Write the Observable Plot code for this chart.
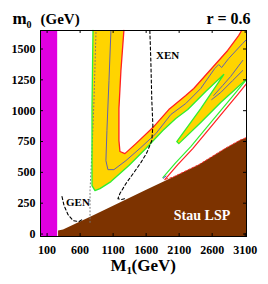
<!DOCTYPE html>
<html>
<head>
<meta charset="utf-8">
<script src="https://cdn.jsdelivr.net/npm/d3@7"></script>
<script src="https://cdn.jsdelivr.net/npm/@observablehq/plot@0.6"></script>
<style>
  html, body { margin: 0; padding: 0; background: #fff; }
  #chart svg { display: block; }
</style>
</head>
<body>
<div id="chart"></div>
<script>
// ---- tick labels ----
const xTicks = [100, 600, 1100, 1600, 2100, 2600, 3100];
const yTicks = [0, 250, 500, 750, 1000, 1250, 1500];

// ---- excluded regions ----
const lepBand = [0, 260];                     // magenta band in M1
const stauLSP = [[266, -20], [266, 28], [341, 36], [800, 153], [1200, 255], [1600, 358],
                 [2000, 460], [2400, 563], [2800, 695], [3031, 764], [3120, 782], [3120, -20]];
const stauEdge = [[1900, 445], [2000, 460], [2400, 563], [2800, 695], [3031, 764], [3120, 782]];

// ---- yellow allowed band: green (outer/lower) and red (inner/upper) contours ----
const greenEdge = [[795, 1650], [780, 1017], [780, 677], [780, 393], [825, 352], [901, 368],
                   [1067, 425], [1339, 555], [1596, 693], [1853, 839], [2049, 936], [2231, 1009],
                   [2502, 1155], [2775, 1293], [2427, 1017], [2064, 750], [2095, 733],
                   [2427, 904], [2729, 1066], [3031, 1212], [3120, 1253]];
const redEdge = [[3046, 1650], [3001, 1609], [2835, 1488], [2578, 1334], [2321, 1180],
                 [2200, 1123], [1943, 1009], [1702, 863], [1445, 733], [1278, 652], [1203, 669],
                 [1188, 758], [1188, 1017], [1218, 1325], [1263, 1650]];
const bandCorner = [[3120, 1650]];

// ---- blue central contours ----
const blueMain = [[1067, 1650], [1037, 1244], [1006, 839], [991, 595], [1021, 522], [1112, 522],
                  [1294, 595], [1520, 701], [1747, 814], [1974, 969], [2200, 1058], [2427, 1180],
                  [2639, 1342], [2699, 1374], [2744, 1350], [2850, 1423], [3062, 1545], [3120, 1577]];
const blueSliver1 = [[2593, 1090], [2729, 1147], [2910, 1244], [3062, 1325]];
const blueSliver2 = [[2623, 1123], [2759, 1204], [2880, 1277], [3062, 1407]];

// ---- thin strip near the stau boundary ----
const stripGreen = [[1853, 458], [2049, 579], [2276, 709], [2502, 855], [2729, 1001], [2956, 1147], [3120, 1253]];
const stripRed = [[1883, 441], [2079, 563], [2306, 693], [2533, 839], [2759, 985], [2986, 1131], [3120, 1220]];
const stripBlue = [[1860, 452], [1900, 470]];

// ---- dashed / dotted boundaries ----
const xenLine = [[1656, 1650], [1671, 1407], [1686, 1082], [1702, 879], [1686, 758], [1611, 660],
                 [1520, 579], [1414, 498], [1294, 409], [1203, 328], [1173, 287], [1218, 279], [1278, 287]];
const genLine = [[326, 303], [357, 230], [417, 157], [493, 109], [583, 101], [629, 117]];
const dottedLine = [[840, 1634], [810, 1082], [780, 677], [750, 352], [750, 93]];

// ---- in-plot labels ----
const darkLabels = [
  {text: "XEN", x: 1750, y: 1415},
  {text: "GEN", x: 387, y: 230}
];
const stauLabel = [{text: "Stau LSP", x: 2019, y: 117}];

const serif = "'Liberation Serif', 'Times New Roman', serif";
const X = d => d[0], Y = d => d[1];
const yellowPoly = greenEdge.concat(bandCorner, redEdge);

const chart = Plot.plot({
  width: 268,
  height: 284,
  marginLeft: 40,
  marginRight: 22,
  marginTop: 30,
  marginBottom: 48,
  style: {fontFamily: serif, background: "#fff"},
  x: {domain: [0, 3120], axis: null},
  y: {domain: [-20, 1650], axis: null},
  marks: [
    Plot.rect([lepBand], {x1: d => d[0], x2: d => d[1], y1: -20, y2: 1650, fill: "#e000e0"}),
    Plot.line(yellowPoly, {x: X, y: Y, fill: "#ffd400", stroke: "none"}),
    Plot.line(stauLSP, {x: X, y: Y, fill: "#7d3300", stroke: "none"}),
    Plot.line(stauEdge, {x: X, y: Y, stroke: "#ff3030", strokeWidth: 1, strokeDasharray: "2,2"}),
    Plot.line(dottedLine, {x: X, y: Y, stroke: "#777", strokeWidth: 1, strokeDasharray: "1,2.5"}),
    Plot.line(greenEdge, {x: X, y: Y, stroke: "#30ee30", strokeWidth: 1.3}),
    Plot.line(redEdge, {x: X, y: Y, stroke: "#ff2020", strokeWidth: 1.3}),
    Plot.line(blueMain, {x: X, y: Y, stroke: "#6262ac", strokeWidth: 1}),
    Plot.line(blueSliver1, {x: X, y: Y, stroke: "#6262ac", strokeWidth: 1}),
    Plot.line(blueSliver2, {x: X, y: Y, stroke: "#6262ac", strokeWidth: 1}),
    Plot.line(stripGreen, {x: X, y: Y, stroke: "#30ee30", strokeWidth: 1.2}),
    Plot.line(stripRed, {x: X, y: Y, stroke: "#ff2020", strokeWidth: 1.2}),
    Plot.line(stripBlue, {x: X, y: Y, stroke: "#4a4ad0", strokeWidth: 1}),
    Plot.line(xenLine, {x: X, y: Y, stroke: "#000", strokeWidth: 1.1, strokeDasharray: "3,2.5"}),
    Plot.line(genLine, {x: X, y: Y, stroke: "#000", strokeWidth: 1.1, strokeDasharray: "3,2.5"}),
    Plot.text(darkLabels, {x: "x", y: "y", text: "text", fill: "#000", fontSize: 11,
      fontWeight: "bold", textAnchor: "start", lineAnchor: "bottom", fontFamily: serif}),
    Plot.text(stauLabel, {x: "x", y: "y", text: "text", fill: "#fff", fontSize: 14,
      fontWeight: "bold", textAnchor: "start", lineAnchor: "bottom", fontFamily: serif}),
    // inner tick marks
    Plot.ruleX(xTicks, {x: d => d, y1: -20, y2: 4, stroke: "#000", strokeWidth: 1}),
    Plot.ruleX(xTicks, {x: d => d, y1: 1650, y2: 1626, stroke: "#000", strokeWidth: 1}),
    Plot.ruleY(yTicks, {y: d => d, x1: 0, x2: 45, stroke: "#000", strokeWidth: 1}),
    Plot.ruleY(yTicks, {y: d => d, x1: 3120, x2: 3075, stroke: "#000", strokeWidth: 1}),
    Plot.frame({stroke: "#000", strokeWidth: 1}),
    Plot.axisX({ticks: xTicks, tickSize: 0, tickPadding: 9, fontSize: 12, fontWeight: "bold",
      fontFamily: serif, label: null, tickFormat: d => String(d), fill: "#000"}),
    Plot.axisY({ticks: yTicks, tickSize: 0, tickPadding: 5, fontSize: 12, fontWeight: "bold",
      fontFamily: serif, label: null, tickFormat: d => String(d), fill: "#000"}),
    // titles
    Plot.text(["m"], {frameAnchor: "top-left", dx: -28, dy: -7, textAnchor: "start", lineAnchor: "bottom",
      fontSize: 17, fontWeight: "bold", fontFamily: serif, fill: "#000"}),
    Plot.text(["0"], {frameAnchor: "top-left", dx: -14, dy: -3, textAnchor: "start", lineAnchor: "bottom",
      fontSize: 10, fontWeight: "bold", fontFamily: serif, fill: "#000"}),
    Plot.text(["(GeV)"], {frameAnchor: "top-left", dx: 0, dy: -7, textAnchor: "start", lineAnchor: "bottom",
      fontSize: 15, fontWeight: "bold", fontFamily: serif, fill: "#000"}),
    Plot.text(["r = 0.6"], {frameAnchor: "top-right", dx: 4, dy: -7, textAnchor: "end", lineAnchor: "bottom",
      fontSize: 16, fontWeight: "bold", fontFamily: serif, fill: "#000"}),
    Plot.text(["M"], {frameAnchor: "bottom-left", dx: 70, dy: 34, textAnchor: "start", lineAnchor: "bottom",
      fontSize: 17, fontWeight: "bold", fontFamily: serif, fill: "#000"}),
    Plot.text(["1"], {frameAnchor: "bottom-left", dx: 86, dy: 37, textAnchor: "start", lineAnchor: "bottom",
      fontSize: 11, fontWeight: "bold", fontFamily: serif, fill: "#000"}),
    Plot.text(["(GeV)"], {frameAnchor: "bottom-left", dx: 91, dy: 34, textAnchor: "start", lineAnchor: "bottom",
      fontSize: 17, fontWeight: "bold", fontFamily: serif, fill: "#000"})
  ]
});
document.getElementById("chart").appendChild(chart);
</script>
</body>
</html>
